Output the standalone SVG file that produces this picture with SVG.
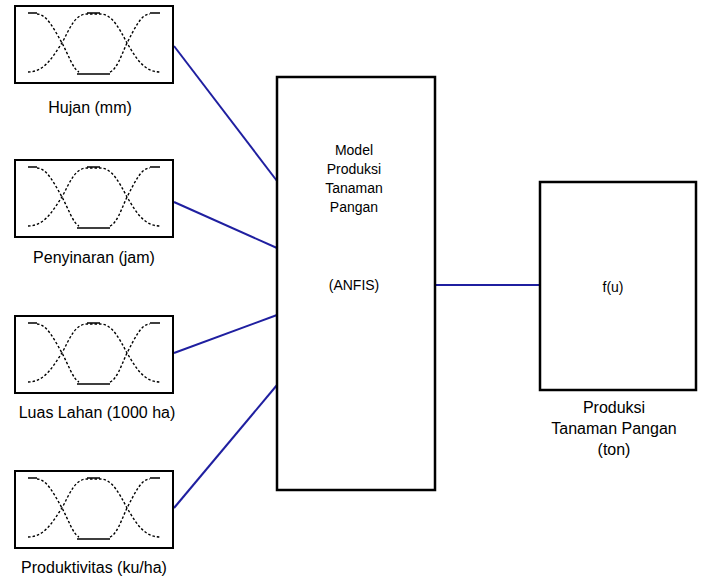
<svg xmlns="http://www.w3.org/2000/svg" xmlns:xlink="http://www.w3.org/1999/xlink" width="701" height="581" viewBox="0 0 701 581">
<style>
.box{fill:#fff;stroke:#000;stroke-width:2}
.big{fill:#fff;stroke:#000;stroke-width:2.5}
.mf{fill:none;stroke:#000;stroke-width:1.4;stroke-dasharray:2.5 2}
.mfs{fill:none;stroke:#000;stroke-width:1.4}
.lbl{font-family:"Liberation Sans",Arial,sans-serif;font-size:16px;fill:#000;text-anchor:middle}
.in{font-family:"Liberation Sans",Arial,sans-serif;font-size:14px;fill:#000;text-anchor:middle}
.con{stroke:#1f1fa0;stroke-width:2;fill:none}
</style>
<defs>
<g id="mfIcon">
<rect class="box" x="0" y="0" width="158" height="77"/>
<path class="mf" d="M13,66 C30,66 38,50 47,37 C55,22 60,8 72,8 H85 C97,8 104,22 112,37 C120,50 128,66 145,66"/>
<path class="mf" d="M22,8 C32,8 40,25 47,37 C54,50 58,63 64,66"/>
<path class="mf" d="M95,66 C102,63 106,50 112,37 C120,22 126,8 135,8"/>
<path class="mfs" d="M13,7 H22 M72,7 H85 M135,7 H145 M62,68 H95"/>
</g>
</defs>
<rect width="701" height="581" fill="#fff"/>
<g id="connectors">
<line class="con" x1="174" y1="46" x2="277" y2="181"/>
<line class="con" x1="174" y1="202" x2="277" y2="248"/>
<line class="con" x1="174" y1="353" x2="277" y2="315"/>
<line class="con" x1="174" y1="508" x2="277" y2="385"/>
<line class="con" x1="435" y1="285" x2="540" y2="285"/>
</g>
<g id="in1">
<use xlink:href="#mfIcon" x="15" y="6"/>
<text class="lbl" x="90" y="113">Hujan (mm)</text>
</g>
<g id="in2">
<use xlink:href="#mfIcon" x="15" y="160"/>
<text class="lbl" x="94" y="263">Penyinaran (jam)</text>
</g>
<g id="in3">
<use xlink:href="#mfIcon" x="15" y="316"/>
<text class="lbl" x="97" y="418">Luas Lahan (1000 ha)</text>
</g>
<g id="in4">
<use xlink:href="#mfIcon" x="15" y="471"/>
<text class="lbl" x="94" y="573">Produktivitas (ku/ha)</text>
</g>
<g id="model">
<rect class="big" x="277" y="77" width="158" height="413"/>
<text class="in" x="354" y="155">Model</text>
<text class="in" x="354" y="174">Produksi</text>
<text class="in" x="354" y="193">Tanaman</text>
<text class="in" x="354" y="212">Pangan</text>
<text class="in" x="354" y="290">(ANFIS)</text>
</g>
<g id="output">
<rect class="big" x="540" y="182" width="156" height="208"/>
<text class="in" x="613" y="292">f(u)</text>
<text class="lbl" x="614" y="413">Produksi</text>
<text class="lbl" x="614" y="434">Tanaman Pangan</text>
<text class="lbl" x="614" y="455">(ton)</text>
</g>
</svg>
